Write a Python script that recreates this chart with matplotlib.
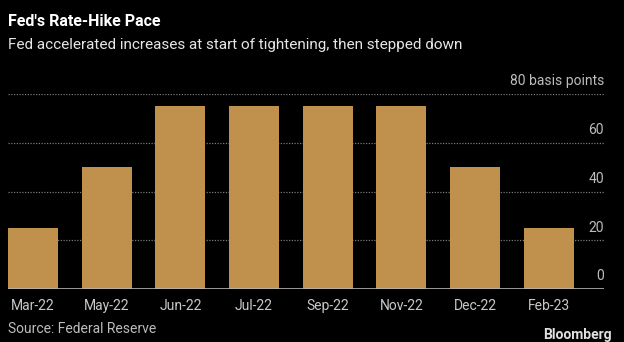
import matplotlib.pyplot as plt

months = ['Mar-22', 'May-22', 'Jun-22', 'Jul-22', 'Sep-22', 'Nov-22', 'Dec-22', 'Feb-23']
hikes = [25, 50, 75, 75, 75, 75, 50, 25]
yticks = [0, 20, 40, 60, 80]

plt.rcParams['font.family'] = ['Roboto', 'DejaVu Sans']

fig = plt.figure(figsize=(6.24, 3.42), dpi=100, facecolor='black')
W, H = 624, 342
ax = fig.add_axes([8 / W, 53 / H, 596 / W, 195 / H], facecolor='black')

x = list(range(len(months)))
ax.bar(x, hikes, width=0.68, color='#c0914c', zorder=2)

ax.set_xlim(-0.34, 7.75)
ax.set_ylim(0, 80)

# dotted grid and a solid baseline
for v in yticks[1:]:
    ax.axhline(v, color='#7a7a7a', lw=0.9, ls=(0, (1, 1.2)), zorder=1)
ax.axhline(0, color='#b5b5b5', lw=1.2, zorder=3)

# value labels sit just above their gridline on the right
for v in yticks:
    label = '80 basis points' if v == 80 else str(v)
    ax.annotate(label, xy=(1, v), xycoords=('axes fraction', 'data'),
                xytext=(0, 4), textcoords='offset points',
                ha='right', va='bottom', color='#bdbdbd', fontsize=10)

ax.set_xticks(x)
ax.set_xticklabels(months, color='#c8c8c8', fontsize=10)
ax.tick_params(axis='x', length=0, pad=7)
ax.set_yticks([])
for s in ax.spines.values():
    s.set_visible(False)

fig.text(8 / W, 1 - 22 / H, "Fed's Rate-Hike Pace", color='white',
         fontsize=11.5, fontweight='bold', va='center', ha='left')
fig.text(8 / W, 1 - 45 / H,
         'Fed accelerated increases at start of tightening, then stepped down',
         color='#e6e6e6', fontsize=11, va='center', ha='left')
fig.text(8 / W, 1 - 329 / H, 'Source: Federal Reserve', color='#bdbdbd',
         fontsize=10, va='center', ha='left')
fig.text(612 / W, 1 - 335 / H, 'Bloomberg', color='#e0e0e0',
         fontsize=10, fontweight='bold', va='center', ha='right')

fig.savefig('out.png', dpi=100, facecolor='black')
